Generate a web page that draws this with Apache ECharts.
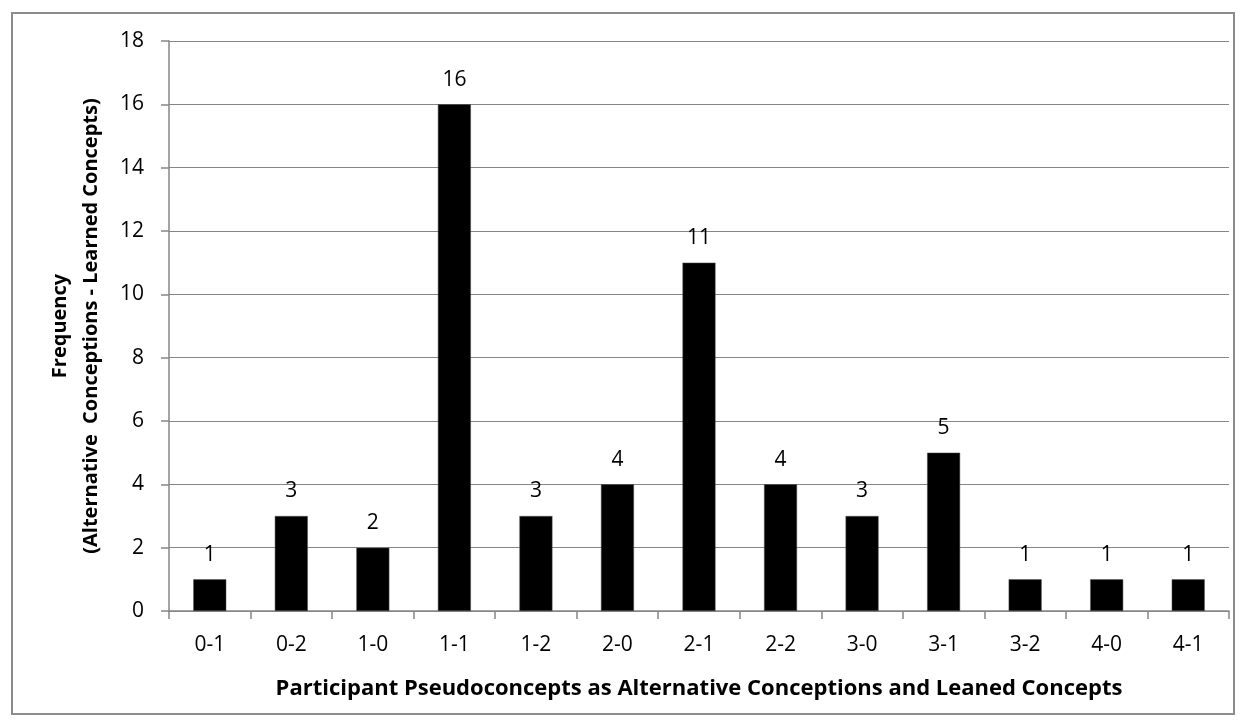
<!DOCTYPE html>
<html>
<head>
<meta charset="utf-8">
<script src="https://cdn.jsdelivr.net/npm/echarts@6/dist/echarts.min.js"></script>
<style>
  html, body { margin: 0; padding: 0; background: #fff; }
  #frame { position: absolute; left: 11px; top: 12px; width: 1224px; height: 703px; border: 2px solid #8c8c8c; box-sizing: border-box; }
  #chart { width: 1248px; height: 728px; }
</style>
</head>
<body>
<div id="frame"></div>
<div id="chart"></div>
<script>
const categories = ['0-1', '0-2', '1-0', '1-1', '1-2', '2-0', '2-1', '2-2', '3-0', '3-1', '3-2', '4-0', '4-1']
const frequency = [1, 3, 2, 16, 3, 4, 11, 4, 3, 5, 1, 1, 1]
const yMin = 0
const yMax = 18
const yStep = 2

const chart = echarts.init(document.getElementById('chart'))
const font = 'Open Sans, DejaVu Sans, sans-serif'
const axisGray = '#868686'

chart.setOption({
  animation: false,
  grid: { left: 169, right: 19, top: 41, bottom: 117 },
  xAxis: {
    type: 'category',
    data: categories,
    name: 'Participant Pseudoconcepts as Alternative Conceptions and Leaned Concepts',
    nameLocation: 'middle',
    nameGap: 67,
    nameTextStyle: { fontFamily: font, fontSize: 22, fontWeight: 'bold', color: '#000' },
    axisLine: { lineStyle: { color: axisGray, width: 1.5 } },
    axisTick: { show: true, length: 8, lineStyle: { color: axisGray, width: 1.5 } },
    axisLabel: { fontFamily: font, fontSize: 21, color: '#000', margin: 24 }
  },
  yAxis: {
    type: 'value',
    min: yMin,
    max: yMax,
    interval: yStep,
    name: 'Frequency\n(Alternative  Conceptions - Learned Concepts)',
    nameLocation: 'middle',
    nameRotate: 90,
    nameGap: 62,
    nameTextStyle: { fontFamily: font, fontSize: 20, fontWeight: 'bold', color: '#000', lineHeight: 31 },
    axisLine: { show: true, lineStyle: { color: axisGray, width: 1.5 } },
    axisTick: { show: true, length: 8, lineStyle: { color: axisGray, width: 1.5 } },
    axisLabel: { fontFamily: font, fontSize: 21, color: '#000', margin: 25 },
    splitLine: { lineStyle: { color: axisGray, width: 1.2 } }
  },
  series: [{
    type: 'bar',
    data: frequency,
    barWidth: 33,
    itemStyle: { color: '#000', borderColor: '#555', borderWidth: 0.5 },
    label: {
      show: true,
      position: 'top',
      distance: 14,
      fontFamily: font,
      fontSize: 21,
      color: '#000'
    }
  }]
})
</script>
</body>
</html>
